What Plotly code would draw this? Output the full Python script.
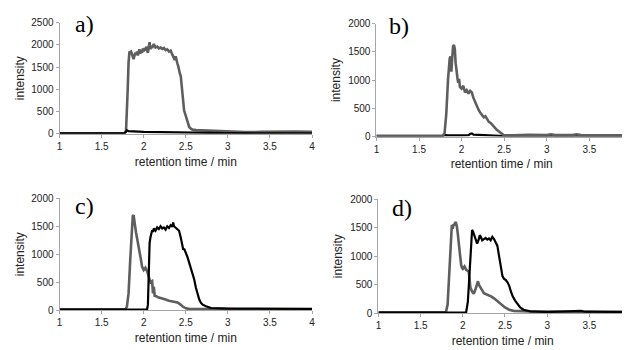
import plotly.graph_objects as go

# ---------------- data (time [min], intensity) ----------------
a_gray = [(1.0,10),(1.3,8),(1.6,10),(1.77,12),(1.79,60),(1.80,400),(1.81,1000),(1.82,1600),(1.83,1830),
          (1.85,1850),(1.86,1800),(1.87,1720),(1.88,1680),(1.89,1760),(1.90,1820),(1.91,1780),(1.92,1850),
          (1.93,1760),(1.94,1840),(1.95,1900),(1.96,1800),(1.97,1880),(1.98,1820),(1.99,1920),(2.00,1850),
          (2.01,1930),(2.02,1870),(2.03,1960),(2.04,1880),(2.05,1820),(2.06,1950),(2.07,2060),(2.08,1900),
          (2.09,1980),(2.10,1930),(2.12,2020),(2.14,1940),(2.16,1960),(2.18,1920),(2.20,1940),(2.22,1910),
          (2.24,1930),(2.26,1880),(2.28,1900),(2.30,1850),(2.32,1870),(2.34,1780),(2.36,1720),(2.37,1660),
          (2.38,1740),(2.39,1620),(2.40,1580),(2.41,1520),(2.42,1400),(2.43,1350),(2.44,1300),(2.45,1100),
          (2.46,850),(2.47,600),(2.48,520),(2.50,400),(2.52,250),(2.54,150),(2.56,110),(2.58,90),(2.62,80),
          (2.68,75),(2.75,65),(2.85,55),(3.0,40),(3.2,35),(3.4,40),(3.6,45),(3.7,55),(3.8,45),(4.0,40)]
a_black = [(1.0,5),(1.5,5),(1.77,8),(1.79,40),(1.80,75),(1.82,55),(1.85,50),(1.9,45),(2.0,40),(2.2,35),
           (2.5,25),(2.8,15),(3.0,10),(3.5,8),(4.0,8)]

b_gray = [(1.0,15),(1.5,15),(1.78,15),(1.80,60),(1.82,400),(1.84,1000),(1.85,1300),(1.86,1380),(1.87,1420),
          (1.88,1150),(1.89,1400),(1.90,1600),(1.91,1620),(1.92,1550),(1.93,1300),(1.94,1100),(1.95,1050),
          (1.96,950),(1.97,1020),(1.98,880),(2.00,850),(2.02,900),(2.04,780),(2.06,820),(2.08,760),(2.10,810),
          (2.12,780),(2.14,680),(2.16,600),(2.18,540),(2.20,470),(2.22,420),(2.24,380),(2.26,340),(2.28,360),
          (2.30,310),(2.32,260),(2.34,240),(2.36,200),(2.38,170),(2.40,140),(2.42,110),(2.45,70),(2.48,35),
          (2.50,20),(2.6,20),(2.8,30),(3.0,25),(3.05,40),(3.1,25),(3.3,25),(3.35,40),(3.4,25),(3.6,20),
          (3.8,20),(4.0,20)]
b_black = [(1.0,10),(1.78,10),(1.80,25),(1.85,20),(2.0,20),(2.08,25),(2.10,45),(2.12,55),(2.14,35),(2.2,30),
           (2.3,25),(2.4,20),(2.5,10),(3.0,10),(4.0,10)]

c_gray = [(1.0,15),(1.5,15),(1.78,15),(1.80,60),(1.82,300),(1.84,900),(1.86,1500),(1.87,1680),(1.88,1700),
          (1.89,1620),(1.90,1480),(1.91,1380),(1.92,1300),(1.93,1240),(1.94,1150),(1.95,1100),(1.96,980),
          (1.97,880),(1.98,780),(1.99,740),(2.00,720),(2.02,760),(2.04,700),(2.06,600),(2.08,500),(2.10,520),
          (2.11,300),(2.12,420),(2.13,260),(2.15,250),(2.17,230),(2.20,220),(2.23,210),(2.26,190),(2.30,170),
          (2.33,160),(2.36,150),(2.40,140),(2.43,110),(2.46,70),(2.50,35),(2.55,20),(2.7,20),(2.9,25),
          (3.1,15),(3.5,15),(4.0,15)]
c_black = [(1.0,10),(1.5,10),(1.80,10),(1.9,15),(2.0,15),(2.04,15),(2.05,100),(2.06,700),(2.07,1200),
           (2.08,1300),(2.09,1380),(2.10,1430),(2.11,1400),(2.12,1460),(2.14,1420),(2.16,1480),(2.18,1450),
           (2.20,1500),(2.22,1460),(2.24,1480),(2.26,1440),(2.28,1500),(2.30,1470),(2.32,1520),(2.34,1490),
           (2.35,1570),(2.36,1500),(2.38,1470),(2.40,1450),(2.42,1420),(2.44,1300),(2.46,1180),(2.47,1080),
           (2.48,1100),(2.50,1040),(2.52,950),(2.54,850),(2.56,750),(2.58,640),(2.60,550),(2.62,400),
           (2.64,280),(2.66,190),(2.68,130),(2.70,100),(2.74,70),(2.80,40),(3.0,30),(3.5,25),(4.0,25)]

d_gray = [(1.0,15),(1.5,15),(1.80,15),(1.82,150),(1.84,700),(1.86,1450),(1.87,1550),(1.88,1480),(1.89,1560),
          (1.90,1540),(1.91,1600),(1.92,1580),(1.93,1520),(1.94,1400),(1.95,1250),(1.96,1100),(1.97,950),
          (1.98,850),(1.99,800),(2.00,780),(2.02,820),(2.04,760),(2.06,740),(2.07,730),(2.08,600),(2.09,450),
          (2.11,380),(2.13,340),(2.15,420),(2.17,520),(2.18,560),(2.19,500),(2.21,440),(2.23,400),(2.25,350),
          (2.28,330),(2.31,320),(2.34,290),(2.37,260),(2.40,220),(2.43,180),(2.46,140),(2.50,100),(2.55,60),
          (2.60,40),(2.8,30),(3.0,25),(3.4,25),(3.6,20),(4.0,20)]
d_black = [(1.0,10),(1.8,10),(2.0,10),(2.04,15),(2.06,200),(2.08,800),(2.10,1350),(2.11,1460),(2.12,1440),
           (2.14,1350),(2.16,1260),(2.17,1220),(2.19,1300),(2.20,1370),(2.21,1350),(2.23,1280),(2.25,1300),
           (2.27,1320),(2.29,1290),(2.31,1310),(2.33,1280),(2.35,1340),(2.37,1300),(2.39,1250),(2.41,1180),
           (2.43,1000),(2.45,850),(2.47,650),(2.49,600),(2.51,580),(2.53,540),(2.55,480),(2.57,380),(2.59,300),
           (2.62,220),(2.65,150),(2.68,100),(2.72,60),(2.8,30),(3.0,20),(3.35,30),(3.4,40),(3.45,25),(4.0,20)]

panel_labels = ["a)", "b)", "c)", "d)"]
x_title = "retention time / min"
y_title = "intensity"
x_ticks = [1, 1.5, 2, 2.5, 3, 3.5, 4]
x_ticktext = ["1", "1.5", "2", "2.5", "3", "3.5", "4"]

# ---------------- layout geometry ----------------
# page body has an 8px margin: the figure is drawn at (8, 8) in the window
OFF = 8
W, H = 630 - OFF, 350 - OFF
panels = [
    dict(g=a_gray, k=a_black, x0=57, x1=312, yb=132, yt=17, xr=[1, 4], yr=[0, 2500], lab=(82, 18), ktop=True),
    dict(g=b_gray, k=b_black, x0=377, x1=630, yb=135, yt=18, xr=[1, 1 + 253/86], yr=[0, 2000], lab=(400, 20), ktop=False),
    dict(g=c_gray, k=c_black, x0=57, x1=312, yb=315, yt=199, xr=[1, 4], yr=[0, 2000], lab=(82, 207), ktop=True),
    dict(g=d_gray, k=d_black, x0=379, x1=630, yb=318, yt=200, xr=[1, 1 + 251/85.2], yr=[0, 2000], lab=(403, 209), ktop=True),
]

GRAY = "#5e5e5e"
AXC = "#a6a6a6"
FONT = "Liberation Sans, Arial, sans-serif"

fig = go.Figure()
layout = dict(width=W, height=H, margin=dict(l=0, r=0, t=0, b=0),
              paper_bgcolor="white", plot_bgcolor="white", showlegend=False,
              font=dict(family=FONT, size=10, color="#222"))
annotations = []

for i, p in enumerate(panels, start=1):
    sx = "" if i == 1 else str(i)
    xa, ya = "x" + sx, "y" + sx
    gt, gv = zip(*p["g"])
    kt, kv = zip(*p["k"])
    tr_g = go.Scatter(x=gt, y=gv, mode="lines", line=dict(color=GRAY, width=2.6), xaxis=xa, yaxis=ya,
                      name="gray")
    tr_k = go.Scatter(x=kt, y=kv, mode="lines", line=dict(color="#000", width=2.2), xaxis=xa, yaxis=ya,
                      name="black")
    if p["ktop"]:
        fig.add_trace(tr_g); fig.add_trace(tr_k)
    else:
        fig.add_trace(tr_k); fig.add_trace(tr_g)

    x0, x1 = p["x0"] - OFF, p["x1"] - OFF
    yb, yt = p["yb"] - OFF, p["yt"] - OFF
    layout["xaxis" + sx] = dict(
        domain=[x0 / W, min(1.0, x1 / W)], range=p["xr"], anchor=ya,
        tickvals=x_ticks, ticktext=x_ticktext, ticks="outside", ticklen=3, tickcolor=AXC,
        showline=True, linecolor=AXC, linewidth=1, showgrid=False, zeroline=False,
        tickfont=dict(size=10, color="#222"),
        title=dict(text=x_title, font=dict(size=12, color="#222"), standoff=6))
    layout["yaxis" + sx] = dict(
        domain=[1 - yb / H, 1 - yt / H], range=p["yr"], anchor=xa, dtick=500,
        ticks="outside", ticklen=3, tickcolor=AXC,
        showline=True, linecolor=AXC, linewidth=1, showgrid=False, zeroline=False,
        tickfont=dict(size=10, color="#222"),
        title=dict(text=y_title, font=dict(size=12, color="#222"), standoff=4))
    lx, ly = p["lab"]
    annotations.append(dict(text=panel_labels[i - 1], x=(lx - OFF) / W, y=1 - (ly - OFF) / H,
                            xref="paper", yref="paper",
                            showarrow=False, xanchor="center", yanchor="middle",
                            font=dict(family="Liberation Serif, Times New Roman, serif", size=24, color="#000")))

layout["annotations"] = annotations
fig.update_layout(**layout)
fig.write_html("out.html")
